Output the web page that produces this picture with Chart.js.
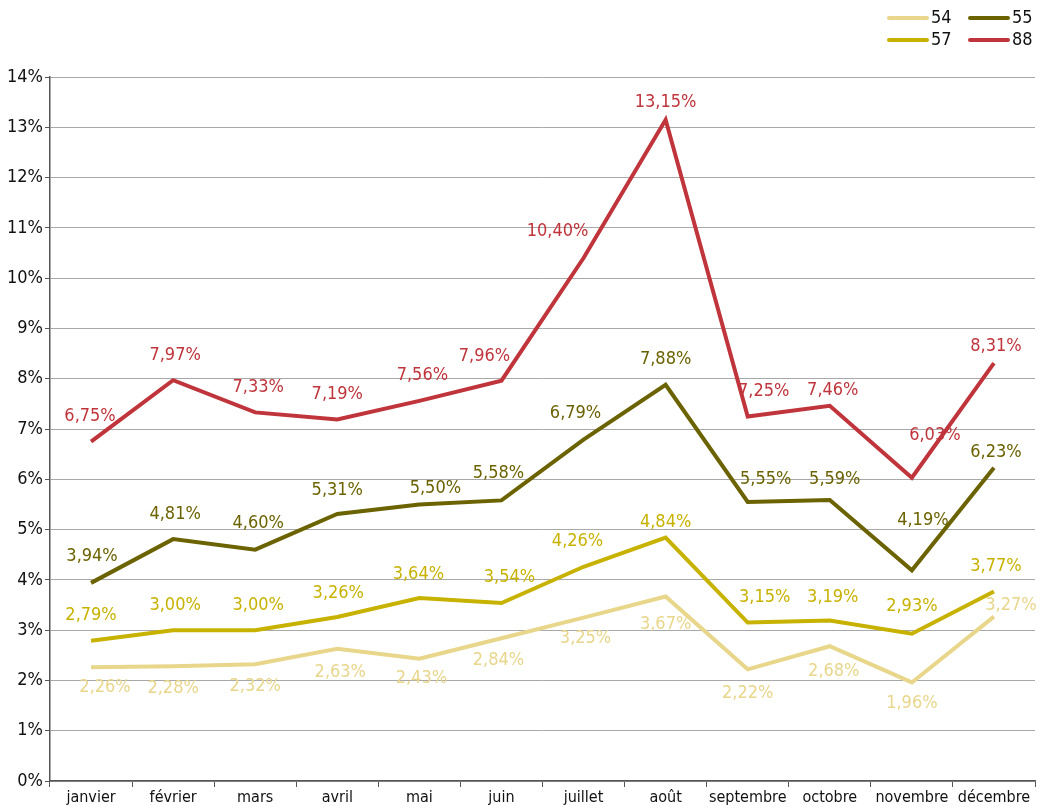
<!DOCTYPE html>
<html>
<head>
<meta charset="utf-8">
<script src="https://cdn.jsdelivr.net/npm/chart.js@4"></script>
<style>
    body { margin: 0; background: #fff; }
    #wrap { width: 1040px; height: 808px; }
</style>
</head>
<body>
<div id="wrap"><canvas id="chart" width="1040" height="808"></canvas></div>
<script>
// Months (x axis)
const months = ['janvier', 'février', 'mars', 'avril', 'mai', 'juin', 'juillet', 'août', 'septembre', 'octobre', 'novembre', 'décembre'];

// Series values, in %
const dept54 = [2.26, 2.28, 2.32, 2.63, 2.43, 2.84, 3.25, 3.67, 2.22, 2.68, 1.96, 3.27];
const dept55 = [3.94, 4.81, 4.60, 5.31, 5.50, 5.58, 6.79, 7.88, 5.55, 5.59, 4.19, 6.23];
const dept57 = [2.79, 3.00, 3.00, 3.26, 3.64, 3.54, 4.26, 4.84, 3.15, 3.19, 2.93, 3.77];
const dept88 = [6.75, 7.97, 7.33, 7.19, 7.56, 7.96, 10.40, 13.15, 7.25, 7.46, 6.03, 8.31];

const seriesNames = ['54', '55', '57', '88'];
const colors = { '54': '#e8d68a', '55': '#6b6200', '57': '#c8b200', '88': '#c0343b' };

const FONT = '"DejaVu Sans Condensed", "Liberation Sans Narrow", sans-serif';

// Label placement nudges [dx, dy] relative to the point
const labelNudge = {
    '54': [[14, 20], [0, 22], [0, 22], [3, 24], [2, 20], [-3, 22], [2, 21], [0, 28], [0, 24], [4, 25], [0, 21], [17, -11]],
    '55': [[1, -27], [2, -25], [3, -26], [0, -24], [16, -16], [-3, -27], [-8, -26], [0, -25], [18, -23], [5, -21], [11, -50], [2, -15]],
    '57': [[0, -25], [2, -25], [3, -25], [1, -24], [-1, -24], [8, -26], [-6, -25], [0, -15], [17, -25], [3, -23], [0, -27], [2, -25]],
    '88': [[-1, -25], [2, -25], [3, -25], [0, -25], [3, -26], [-17, -24], [-26, -27], [0, -17], [16, -25], [3, -16], [23, -42], [2, -17]]
};

function fmt(v) {
    return v.toFixed(2).replace('.', ',') + '%';
}

// Draw the value labels next to each point
const valueLabels = {
    id: 'valueLabels',
    afterDatasetsDraw(chart) {
        const ctx = chart.ctx;
        ctx.save();
        ctx.font = '18px ' + FONT;
        ctx.textAlign = 'center';
        ctx.textBaseline = 'middle';
        chart.data.datasets.forEach((ds, i) => {
            const meta = chart.getDatasetMeta(i);
            const nudges = labelNudge[ds.label];
            ctx.fillStyle = ds.borderColor;
            meta.data.forEach((pt, j) => {
                const n = nudges[j];
                ctx.fillText(fmt(ds.data[j]), pt.x + n[0], pt.y + n[1]);
            });
        });
        ctx.restore();
    }
};

// Legend in 2 columns at top right
const cornerLegend = {
    id: 'cornerLegend',
    afterDraw(chart) {
        const ctx = chart.ctx;
        const order = ['54', '55', '57', '88'];
        ctx.save();
        ctx.font = '18px ' + FONT;
        ctx.textBaseline = 'middle';
        ctx.textAlign = 'left';
        order.forEach((name, k) => {
            const col = k % 2;
            const row = Math.floor(k / 2);
            const x = 889 + col * 81;
            const y = 18 + row * 22;
            ctx.strokeStyle = colors[name];
            ctx.lineWidth = 4;
            ctx.lineCap = 'round';
            ctx.beginPath();
            ctx.moveTo(x, y);
            ctx.lineTo(x + 38, y);
            ctx.stroke();
            ctx.fillStyle = '#111';
            ctx.fillText(name, x + 42, y);
        });
        ctx.restore();
    }
};

const seriesData = { '54': dept54, '55': dept55, '57': dept57, '88': dept88 };

const datasets = seriesNames.map(name => ({
    label: name,
    data: seriesData[name],
    borderColor: colors[name],
    backgroundColor: colors[name],
    borderWidth: 4,
    pointRadius: 0,
    tension: 0,
    fill: false
}));

new Chart(document.getElementById('chart'), {
    type: 'line',
    data: { labels: months, datasets: datasets },
    options: {
        responsive: false,
        animation: false,
        layout: { padding: { top: 77, right: 5, left: 0, bottom: 0 } },
        plugins: {
            legend: { display: false },
            tooltip: { enabled: false }
        },
        scales: {
            x: {
                offset: true,
                grid: { drawOnChartArea: false, offset: true, tickLength: 6, color: '#555' },
                border: { color: '#555', width: 1.5 },
                ticks: { color: '#111', font: { family: FONT, size: 16 }, padding: 1, maxRotation: 0, autoSkip: false },
                afterFit(scale) { scale.height = 27; }
            },
            y: {
                min: 0,
                max: 14,
                ticks: {
                    stepSize: 1,
                    color: '#111',
                    padding: 2,
                    font: { family: FONT, size: 18 },
                    callback: v => v + '%'
                },
                grid: { color: '#a8a8a8', lineWidth: 1, tickLength: 5, tickColor: '#555' },
                border: { color: '#555', width: 1.5 },
                afterFit(scale) { scale.width = 50; }
            }
        }
    },
    plugins: [valueLabels, cornerLegend]
});
</script>
</body>
</html>
